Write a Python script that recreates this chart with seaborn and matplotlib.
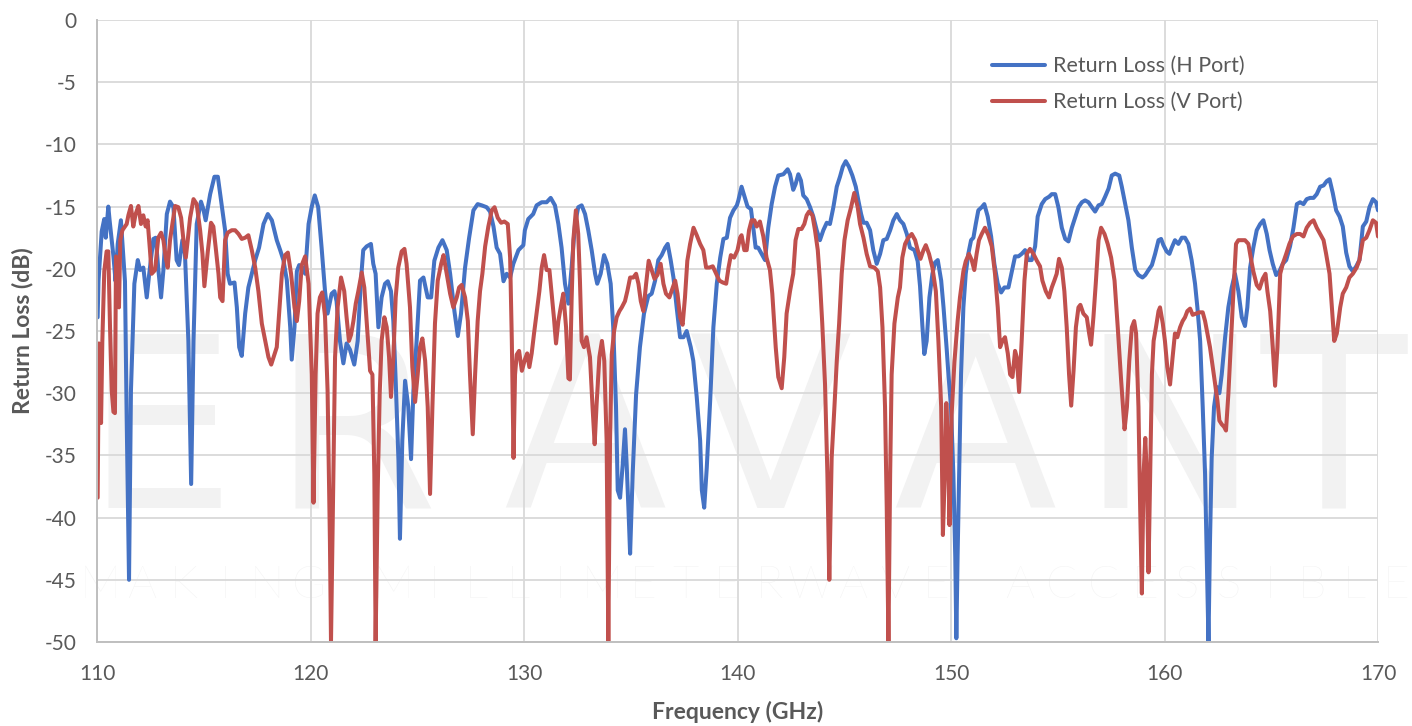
import numpy as np
import pandas as pd
import matplotlib
matplotlib.use("Agg")
import matplotlib.pyplot as plt
import seaborn as sns
from matplotlib.ticker import MultipleLocator

# ---------------------------------------------------------------- data
# H port return loss: frequency (GHz) / return loss (dB)
freq_h = [
    110.03, 110.07, 110.22, 110.34, 110.41, 110.53, 110.59, 110.69, 110.77, 110.87,
    110.97, 111.12, 111.23, 111.31, 111.39, 111.50, 111.59, 111.75, 111.91, 112.02,
    112.17, 112.33, 112.44, 112.64, 112.75, 112.87, 113.00, 113.11, 113.27, 113.42,
    113.58, 113.73, 113.84, 114.00, 114.12, 114.28, 114.41, 114.52, 114.67, 114.87,
    114.98, 115.09, 115.30, 115.50, 115.66, 115.81, 116.00, 116.12, 116.23, 116.44,
    116.55, 116.66, 116.78, 116.94, 117.09, 117.25, 117.41, 117.59, 117.80, 118.00,
    118.19, 118.42, 118.58, 118.73, 118.89, 119.05, 119.12, 119.25, 119.36, 119.47,
    119.62, 119.75, 119.91, 120.06, 120.20, 120.36, 120.52, 120.68, 120.80, 120.99,
    121.12, 121.22, 121.38, 121.54, 121.69, 121.85, 122.05, 122.21, 122.36, 122.47,
    122.63, 122.83, 122.94, 123.05, 123.18, 123.33, 123.49, 123.62, 123.77, 123.88,
    123.99, 124.12, 124.19, 124.30, 124.43, 124.58, 124.71, 124.82, 124.97, 125.13,
    125.29, 125.49, 125.65, 125.80, 125.99, 126.18, 126.38, 126.54, 126.74, 126.90,
    127.05, 127.24, 127.43, 127.63, 127.83, 128.02, 128.25, 128.41, 128.57, 128.72,
    128.88, 129.04, 129.19, 129.35, 129.50, 129.74, 129.97, 130.04, 130.20, 130.43,
    130.59, 130.83, 131.06, 131.25, 131.45, 131.61, 131.76, 131.92, 132.08, 132.23,
    132.39, 132.54, 132.70, 132.86, 133.01, 133.17, 133.33, 133.43, 133.59, 133.75,
    133.90, 134.06, 134.18, 134.31, 134.39, 134.50, 134.62, 134.73, 134.81, 134.89,
    134.97, 135.09, 135.25, 135.43, 135.62, 135.82, 135.98, 136.14, 136.29, 136.45,
    136.61, 136.73, 136.87, 137.00, 137.15, 137.31, 137.47, 137.62, 137.81, 137.93,
    138.09, 138.25, 138.33, 138.44, 138.56, 138.72, 138.87, 139.03, 139.19, 139.34,
    139.50, 139.65, 139.81, 139.97, 140.04, 140.19, 140.35, 140.47, 140.63, 140.74,
    140.85, 140.97, 141.13, 141.29, 141.44, 141.60, 141.76, 141.91, 142.15, 142.35,
    142.46, 142.61, 142.72, 142.85, 142.97, 143.08, 143.24, 143.40, 143.55, 143.71,
    143.86, 144.02, 144.18, 144.33, 144.49, 144.65, 144.80, 144.93, 145.07, 145.22,
    145.38, 145.54, 145.66, 145.79, 145.90, 146.05, 146.21, 146.36, 146.52, 146.68,
    146.83, 146.99, 147.15, 147.30, 147.46, 147.61, 147.77, 147.93, 148.08, 148.29,
    148.44, 148.55, 148.66, 148.75, 148.86, 148.99, 149.13, 149.25, 149.38, 149.54,
    149.65, 149.80, 149.88, 150.00, 150.11, 150.20, 150.25, 150.31, 150.38, 150.47,
    150.58, 150.69, 150.81, 150.94, 151.05, 151.16, 151.28, 151.44, 151.56, 151.72,
    151.88, 152.03, 152.19, 152.35, 152.50, 152.69, 152.85, 153.00, 153.16, 153.31,
    153.47, 153.63, 153.78, 153.94, 154.06, 154.25, 154.41, 154.60, 154.72, 154.88,
    155.03, 155.19, 155.35, 155.50, 155.66, 155.81, 155.97, 156.13, 156.28, 156.44,
    156.60, 156.75, 156.91, 157.06, 157.22, 157.38, 157.53, 157.69, 157.88, 158.00,
    158.16, 158.31, 158.47, 158.63, 158.78, 158.97, 159.10, 159.25, 159.41, 159.56,
    159.72, 159.84, 159.95, 160.10, 160.23, 160.34, 160.49, 160.65, 160.81, 160.96,
    161.12, 161.27, 161.43, 161.54, 161.67, 161.79, 161.90, 161.98, 162.06, 162.13,
    162.21, 162.32, 162.45, 162.57, 162.68, 162.84, 162.99, 163.15, 163.30, 163.46,
    163.62, 163.77, 163.88, 164.01, 164.16, 164.32, 164.48, 164.63, 164.79, 164.92,
    165.07, 165.23, 165.38, 165.54, 165.70, 165.88, 166.04, 166.20, 166.35, 166.51,
    166.66, 166.82, 166.98, 167.13, 167.29, 167.45, 167.60, 167.73, 167.88, 168.04,
    168.20, 168.35, 168.51, 168.66, 168.82, 168.98, 169.13, 169.29, 169.45, 169.60,
    169.76, 169.91, 170.00,
]
rl_h = [
    -23.9, -21.0, -17.0, -16.0, -17.5, -15.0, -16.1, -17.7, -19.0, -21.0,
    -18.0, -16.1, -19.0, -21.0, -32.0, -45.0, -29.8, -21.2, -19.3, -20.1,
    -19.9, -22.3, -20.5, -17.6, -17.5, -20.0, -22.3, -20.1, -15.6, -14.6,
    -15.05, -19.3, -19.7, -17.7, -18.8, -25.8, -37.3, -25.8, -16.4, -14.6,
    -15.2, -16.1, -14.0, -12.6, -12.6, -14.5, -16.9, -20.4, -21.2, -21.1,
    -23.1, -26.3, -27.0, -23.6, -21.5, -20.4, -19.3, -18.3, -16.4, -15.6,
    -16.1, -17.7, -18.5, -19.3, -20.9, -24.7, -27.3, -24.7, -20.2, -19.7,
    -19.9, -20.4, -16.4, -15.0, -14.1, -15.05, -18.3, -21.8, -23.6, -22.0,
    -21.8, -22.6, -25.8, -27.6, -26.0, -26.5, -27.7, -25.8, -21.0, -18.5,
    -18.2, -18.0, -19.6, -20.4, -24.7, -22.3, -21.2, -21.0, -21.8, -24.2,
    -29.0, -35.4, -41.7, -33.8, -29.0, -31.1, -35.3, -29.8, -25.8, -20.95,
    -20.7, -22.3, -22.3, -19.35, -18.3, -17.7, -18.5, -20.4, -23.4, -25.4,
    -23.6, -19.9, -17.5, -15.3, -14.8, -14.9, -15.05, -15.4, -16.6, -18.3,
    -18.8, -21.0, -20.4, -20.7, -19.6, -18.5, -18.1, -16.9, -16.0, -15.6,
    -14.9, -14.65, -14.65, -14.3, -14.9, -16.4, -18.3, -21.2, -22.8, -19.9,
    -16.4, -15.05, -14.9, -15.6, -16.9, -18.5, -20.4, -21.2, -20.4, -18.9,
    -19.6, -21.2, -24.7, -31.1, -37.8, -38.4, -35.8, -32.9, -35.8, -39.2,
    -42.9, -36.5, -30.1, -26.3, -23.6, -22.2, -22.0, -20.95, -19.3, -18.9,
    -18.3, -18.0, -19.3, -20.7, -23.1, -25.5, -25.5, -25.0, -26.3, -27.4,
    -30.3, -33.8, -37.8, -39.2, -36.0, -30.6, -24.7, -21.2, -19.1, -17.6,
    -17.5, -15.9, -15.3, -14.9, -14.5, -13.4, -14.3, -15.0, -15.2, -16.7,
    -18.3, -18.3, -18.8, -19.3, -16.7, -14.8, -13.4, -12.5, -12.4, -12.0,
    -12.4, -13.65, -13.2, -12.4, -12.9, -14.1, -14.4, -15.05, -15.8, -16.9,
    -17.7, -16.9, -16.3, -16.4, -15.05, -13.4, -12.6, -11.8, -11.35, -11.8,
    -12.5, -13.4, -14.5, -15.6, -16.3, -16.3, -16.9, -18.5, -19.6, -18.8,
    -17.7, -17.6, -16.9, -16.1, -15.6, -16.1, -16.4, -17.2, -18.3, -18.5,
    -19.4, -21.4, -24.6, -26.85, -25.8, -22.3, -20.4, -19.5, -19.3, -20.95,
    -23.1, -26.5, -28.5, -31.1, -36.5, -43.2, -49.7, -43.0, -36.5, -28.5,
    -23.1, -20.4, -18.8, -17.7, -17.5, -16.4, -15.3, -15.05, -14.8, -15.8,
    -17.4, -19.6, -21.2, -21.9, -21.5, -21.5, -20.2, -19.0, -19.0, -18.8,
    -18.5, -19.3, -19.3, -18.2, -15.8, -14.8, -14.4, -14.2, -14.0, -14.0,
    -15.05, -16.7, -17.6, -17.8, -16.7, -15.9, -15.05, -14.65, -14.5, -14.65,
    -15.05, -15.4, -14.9, -14.8, -14.2, -13.55, -12.5, -12.35, -12.5, -13.4,
    -14.8, -16.1, -18.3, -20.1, -20.5, -20.7, -20.5, -20.1, -19.7, -18.8,
    -17.7, -17.6, -18.1, -18.6, -18.8, -18.3, -17.7, -18.0, -17.5, -17.5,
    -18.0, -19.3, -21.2, -23.1, -25.8, -31.1, -36.5, -43.2, -50.0, -42.0,
    -35.2, -31.1, -29.5, -30.0, -28.5, -25.5, -23.1, -21.5, -20.4, -21.8,
    -23.9, -24.6, -23.1, -19.9, -18.3, -16.9, -16.4, -16.1, -17.2, -18.5,
    -19.6, -20.5, -20.2, -19.6, -19.3, -18.2, -16.7, -14.8, -14.65, -14.8,
    -14.4, -14.3, -14.3, -14.0, -13.4, -13.3, -12.95, -12.8, -13.9, -15.3,
    -15.8, -16.6, -18.7, -19.8, -20.2, -19.8, -19.3, -16.6, -16.2, -15.05,
    -14.4, -14.65, -15.3,
]

# V port return loss: frequency (GHz) / return loss (dB)
freq_v = [
    110.03, 110.09, 110.19, 110.25, 110.34, 110.45, 110.53, 110.61, 110.69, 110.77,
    110.84, 110.89, 110.97, 111.03, 111.09, 111.19, 111.31, 111.39, 111.47, 111.59,
    111.70, 111.81, 111.94, 112.06, 112.17, 112.28, 112.37, 112.48, 112.56, 112.72,
    112.87, 113.00, 113.11, 113.22, 113.31, 113.42, 113.53, 113.66, 113.81, 113.94,
    114.05, 114.16, 114.25, 114.36, 114.52, 114.67, 114.83, 114.94, 115.03, 115.19,
    115.34, 115.45, 115.56, 115.69, 115.77, 115.88, 116.00, 116.12, 116.31, 116.47,
    116.63, 116.78, 116.94, 117.09, 117.25, 117.41, 117.56, 117.72, 117.88, 118.03,
    118.16, 118.27, 118.42, 118.53, 118.66, 118.81, 118.94, 119.09, 119.25, 119.36,
    119.47, 119.59, 119.75, 119.91, 120.06, 120.14, 120.24, 120.33, 120.44, 120.55,
    120.68, 120.80, 120.91, 120.96, 121.07, 121.15, 121.27, 121.43, 121.58, 121.69,
    121.80, 121.90, 122.01, 122.12, 122.24, 122.40, 122.52, 122.65, 122.79, 122.90,
    122.99, 123.05, 123.15, 123.24, 123.33, 123.46, 123.57, 123.68, 123.77, 123.88,
    123.99, 124.11, 124.27, 124.40, 124.50, 124.66, 124.77, 124.90, 125.02, 125.13,
    125.24, 125.37, 125.49, 125.60, 125.71, 125.83, 125.96, 126.12, 126.23, 126.38,
    126.54, 126.69, 126.85, 126.96, 127.08, 127.24, 127.37, 127.47, 127.60, 127.71,
    127.83, 127.94, 128.05, 128.18, 128.33, 128.49, 128.62, 128.77, 128.93, 129.08,
    129.24, 129.35, 129.43, 129.51, 129.58, 129.66, 129.77, 129.90, 130.04, 130.15,
    130.25, 130.36, 130.47, 130.59, 130.72, 130.83, 130.94, 131.06, 131.19, 131.29,
    131.40, 131.50, 131.61, 131.72, 131.84, 131.97, 132.08, 132.15, 132.23, 132.31,
    132.43, 132.54, 132.62, 132.70, 132.81, 132.93, 133.09, 133.21, 133.31, 133.40,
    133.53, 133.65, 133.76, 133.87, 133.95, 134.03, 134.11, 134.22, 134.34, 134.47,
    134.58, 134.73, 134.84, 134.97, 135.12, 135.25, 135.36, 135.47, 135.59, 135.72,
    135.84, 135.98, 136.11, 136.25, 136.40, 136.53, 136.65, 136.81, 136.97, 137.08,
    137.19, 137.31, 137.43, 137.54, 137.65, 137.78, 137.94, 138.09, 138.25, 138.40,
    138.53, 138.68, 138.84, 139.00, 139.15, 139.31, 139.47, 139.58, 139.69, 139.84,
    140.00, 140.12, 140.19, 140.32, 140.43, 140.54, 140.66, 140.79, 140.90, 141.05,
    141.21, 141.36, 141.52, 141.63, 141.72, 141.79, 141.91, 142.07, 142.19, 142.30,
    142.46, 142.61, 142.72, 142.85, 143.00, 143.13, 143.24, 143.35, 143.51, 143.63,
    143.76, 143.86, 143.97, 144.10, 144.21, 144.30, 144.41, 144.54, 144.65, 144.76,
    144.88, 145.01, 145.16, 145.32, 145.47, 145.63, 145.74, 145.90, 146.05, 146.21,
    146.41, 146.57, 146.68, 146.79, 146.91, 146.99, 147.07, 147.15, 147.22, 147.35,
    147.51, 147.61, 147.72, 147.85, 148.00, 148.16, 148.32, 148.44, 148.57, 148.71,
    148.82, 148.97, 149.13, 149.29, 149.41, 149.54, 149.62, 149.72, 149.78, 149.86,
    149.93, 150.03, 150.16, 150.31, 150.42, 150.58, 150.69, 150.84, 150.97, 151.09,
    151.20, 151.31, 151.44, 151.59, 151.75, 151.91, 152.06, 152.19, 152.30, 152.41,
    152.53, 152.66, 152.77, 152.88, 153.00, 153.08, 153.19, 153.31, 153.44, 153.55,
    153.70, 153.86, 154.02, 154.17, 154.28, 154.44, 154.59, 154.72, 154.84, 154.95,
    155.06, 155.19, 155.31, 155.42, 155.53, 155.63, 155.74, 155.85, 155.97, 156.06,
    156.20, 156.36, 156.47, 156.56, 156.67, 156.78, 156.91, 157.03, 157.19, 157.34,
    157.50, 157.66, 157.81, 157.97, 158.13, 158.24, 158.35, 158.47, 158.58, 158.67,
    158.78, 158.86, 158.94, 159.02, 159.10, 159.17, 159.25, 159.33, 159.41, 159.49,
    159.60, 159.72, 159.79, 159.92, 160.02, 160.13, 160.26, 160.38, 160.49, 160.60,
    160.73, 160.85, 160.96, 161.07, 161.20, 161.32, 161.48, 161.63, 161.79, 161.90,
    162.01, 162.13, 162.26, 162.37, 162.48, 162.57, 162.68, 162.79, 162.88, 162.99,
    163.10, 163.23, 163.35, 163.46, 163.62, 163.77, 163.93, 164.04, 164.16, 164.32,
    164.45, 164.60, 164.73, 164.82, 164.95, 165.07, 165.18, 165.29, 165.42, 165.54,
    165.70, 165.85, 166.01, 166.20, 166.35, 166.51, 166.66, 166.82, 166.98, 167.13,
    167.29, 167.45, 167.57, 167.73, 167.84, 167.95, 168.07, 168.23, 168.35, 168.51,
    168.66, 168.82, 169.00, 169.13, 169.29, 169.45, 169.60, 169.76, 169.91, 170.00,
]
rl_v = [
    -38.4, -26.0, -32.4, -25.8, -20.2, -18.6, -18.6, -24.7, -29.8, -31.5,
    -31.6, -19.0, -19.3, -23.1, -17.7, -16.9, -16.6, -16.4, -15.7, -14.95,
    -16.6, -15.6, -14.95, -16.4, -15.7, -16.6, -16.1, -18.5, -20.4, -20.1,
    -17.5, -17.1, -17.7, -19.1, -19.9, -17.7, -16.4, -14.95, -15.05, -15.9,
    -17.7, -19.1, -17.7, -15.9, -14.4, -14.8, -16.9, -18.8, -21.4, -18.6,
    -16.3, -16.6, -18.3, -20.4, -22.3, -22.6, -17.7, -17.1, -16.9, -16.9,
    -17.2, -17.6, -17.5, -17.3, -18.5, -19.9, -21.8, -24.4, -25.8, -27.1,
    -27.7, -27.1, -26.3, -23.6, -20.4, -18.9, -18.7, -20.4, -23.1, -24.2,
    -22.6, -19.7, -19.0, -21.2, -28.5, -38.8, -28.5, -23.6, -22.3, -21.9,
    -23.8, -29.8, -41.9, -50.0, -36.5, -27.1, -23.1, -20.7, -21.8, -23.9,
    -25.8, -25.3, -24.2, -22.8, -21.8, -20.3, -21.5, -24.7, -28.2, -28.5,
    -36.5, -50.0, -37.6, -30.1, -25.8, -23.9, -24.7, -27.1, -30.3, -27.1,
    -22.3, -19.9, -18.6, -18.4, -19.6, -23.1, -27.9, -30.7, -28.5, -26.3,
    -25.6, -27.4, -31.1, -38.1, -31.1, -24.4, -20.95, -19.6, -18.9, -20.4,
    -22.0, -23.1, -22.3, -21.5, -21.3, -22.3, -24.2, -28.5, -33.3, -28.5,
    -24.2, -21.8, -20.4, -18.2, -16.6, -15.3, -15.05, -15.9, -16.3, -16.2,
    -16.4, -19.1, -25.8, -35.2, -28.5, -26.9, -26.6, -28.2, -27.3, -26.8,
    -27.9, -26.8, -25.2, -23.6, -21.8, -19.9, -18.9, -20.1, -20.1, -21.9,
    -23.9, -26.0, -24.2, -23.1, -22.0, -24.7, -28.8, -28.9, -22.5, -17.7,
    -15.3, -17.2, -20.95, -25.8, -26.3, -25.5, -27.1, -31.1, -34.1, -30.9,
    -27.1, -25.8, -27.4, -33.8, -50.0, -33.8, -26.9, -25.0, -23.9, -23.4,
    -23.1, -22.6, -21.8, -20.7, -20.7, -20.4, -21.2, -22.6, -23.4, -21.2,
    -19.35, -20.1, -20.8, -20.5, -19.6, -21.2, -22.0, -22.3, -21.5, -20.95,
    -22.0, -23.9, -24.5, -22.3, -19.35, -18.0, -16.7, -17.3, -18.0, -18.5,
    -19.9, -19.9, -19.8, -20.4, -20.95, -21.1, -21.2, -19.9, -18.9, -19.1,
    -18.5, -17.5, -17.3, -18.5, -18.5, -16.9, -16.1, -16.1, -16.6, -16.2,
    -17.4, -19.1, -20.1, -22.0, -24.4, -26.3, -28.7, -29.6, -27.1, -23.6,
    -21.8, -20.4, -17.7, -16.8, -16.8, -16.4, -15.7, -15.4, -15.7, -16.9,
    -18.5, -20.95, -24.4, -29.3, -36.5, -45.0, -35.2, -31.1, -27.4, -24.4,
    -20.4, -17.7, -16.1, -15.05, -13.9, -15.05, -16.4, -17.5, -18.8, -19.8,
    -19.9, -20.2, -21.5, -24.7, -31.1, -39.2, -50.0, -36.5, -28.5, -24.4,
    -22.3, -21.5, -19.1, -18.0, -17.5, -17.2, -17.7, -18.5, -19.2, -18.5,
    -18.1, -18.8, -19.9, -21.8, -25.8, -31.1, -41.4, -36.0, -30.8, -34.0,
    -40.6, -31.7, -27.5, -24.2, -22.3, -20.2, -19.4, -18.8, -19.3, -20.1,
    -18.8, -17.7, -17.2, -16.7, -17.3, -18.2, -20.4, -23.1, -26.3, -25.8,
    -25.5, -26.8, -28.5, -28.7, -26.6, -27.1, -29.9, -25.8, -20.95, -18.8,
    -18.4, -18.8, -19.35, -19.8, -20.95, -21.8, -22.3, -21.5, -20.95, -20.4,
    -19.2, -19.9, -21.8, -24.7, -28.5, -31.0, -28.2, -24.7, -23.1, -22.9,
    -23.6, -23.9, -25.2, -26.1, -23.9, -21.2, -17.7, -16.7, -17.2, -18.0,
    -19.1, -20.95, -24.7, -29.0, -32.9, -31.1, -27.4, -24.7, -24.2, -25.2,
    -31.1, -39.2, -46.1, -36.5, -33.6, -36.5, -44.4, -36.5, -28.5, -25.8,
    -24.7, -23.4, -23.1, -24.4, -25.8, -27.9, -29.3, -27.1, -25.2, -25.5,
    -24.7, -24.2, -23.9, -23.4, -23.2, -23.7, -23.6, -23.5, -23.5, -24.2,
    -25.2, -26.3, -27.9, -29.3, -30.6, -32.2, -32.5, -32.7, -33.0, -30.1,
    -26.3, -21.8, -18.0, -17.7, -17.7, -17.7, -18.0, -19.1, -20.2, -21.3,
    -21.6, -20.8, -20.4, -21.8, -23.4, -26.3, -29.4, -26.3, -20.4, -19.6,
    -18.8, -18.0, -17.4, -17.2, -17.2, -17.4, -16.7, -16.3, -16.1, -16.7,
    -17.2, -17.7, -18.8, -20.4, -23.1, -25.8, -25.2, -23.1, -22.0, -21.5,
    -20.7, -20.4, -19.9, -19.3, -17.7, -17.5, -16.9, -16.1, -16.3, -17.4,
]

series_names = ["Return Loss (H Port)", "Return Loss (V Port)"]
series_colors = ["#4472C4", "#C0504D"]
x_ticks = [110, 120, 130, 140, 150, 160, 170]
y_ticks = [0, -5, -10, -15, -20, -25, -30, -35, -40, -45, -50]
brand_letters = ["E", "R", "A", "V", "A", "N", "T"]
brand_tagline = "MAKING MILLIMETERWAVE ACCESSIBLE"

# ---------------------------------------------------------------- style
sns.set_style("white")
plt.rcParams["font.family"] = ["Lato", "DejaVu Sans"]
plt.rcParams["axes.unicode_minus"] = False
TEXT = "#595959"
GRID = "#D9D9D9"
AXIS = "#BFBFBF"

W, H = 1412, 726
fig = plt.figure(figsize=(W / 100, H / 100), dpi=100)
ax = fig.add_axes([97 / W, 1 - 642 / H, 1281 / W, 622 / H])
ax.patch.set_alpha(0)

# faint brand watermark behind the plot
wm = "#F2F2F2"
brand_x = [160, 355, 585, 770, 975, 1170, 1334]
for ch, px in zip(brand_letters, brand_x):
    fig.text(px / W, 1 - 508 / H, ch, fontsize=172, color=wm,
             ha="center", va="baseline", family=["DejaVu Sans"],
             zorder=-5)
for i, ch in enumerate(brand_tagline):
    px = 100 + i * 41.8
    fig.text(px / W, 1 - 598 / H, ch, fontsize=33, color=wm, fontweight="light",
             ha="center", va="baseline", family=["Lato", "DejaVu Sans"],
             zorder=-5)

# ---------------------------------------------------------------- curves
df_h = pd.DataFrame({"freq": freq_h, "rl": rl_h})
df_v = pd.DataFrame({"freq": freq_v, "rl": rl_v})
for df, name, col in zip([df_h, df_v], series_names, series_colors):
    sns.lineplot(data=df, x="freq", y="rl", ax=ax, color=col, linewidth=2.9,
                 estimator=None, sort=False, label=name,
                 solid_joinstyle="round", solid_capstyle="round")

ax.set_xlim(110, 170)
ax.set_ylim(-50, 0)
ax.set_xticks(x_ticks)
ax.set_yticks(y_ticks)
ax.xaxis.set_minor_locator(MultipleLocator(2))
ax.yaxis.set_minor_locator(MultipleLocator(1))
ax.grid(True, which="major", color=GRID, linewidth=1.3, zorder=0)
ax.set_axisbelow(True)

for side in ["top", "right"]:
    ax.spines[side].set_visible(False)
for side in ["left", "bottom"]:
    ax.spines[side].set_color(AXIS)
    ax.spines[side].set_linewidth(1.4)

ax.tick_params(axis="both", which="major", length=0, labelsize=15,
               labelcolor=TEXT)
ax.tick_params(axis="y", which="major", pad=15)
ax.tick_params(axis="x", which="major", pad=16)
ax.tick_params(axis="both", which="minor", direction="in", length=5,
               width=1.2, color=AXIS)

ax.set_xlabel("Frequency (GHz)", fontsize=16.5, fontweight="bold", color=TEXT,
              labelpad=12)
ax.set_ylabel("Return Loss (dB)", fontsize=16.5, fontweight="bold", color=TEXT,
              labelpad=8)

leg = ax.legend(loc="upper left", bbox_to_anchor=(0.699, 0.942), frameon=False,
                fontsize=15.5, handlelength=2.45, handletextpad=0.35,
                labelspacing=0.75, borderaxespad=0, borderpad=0)
for t in leg.get_texts():
    t.set_color(TEXT)
for h in leg.get_lines():
    h.set_linewidth(2.9)

fig.savefig("out.png", dpi=100)
